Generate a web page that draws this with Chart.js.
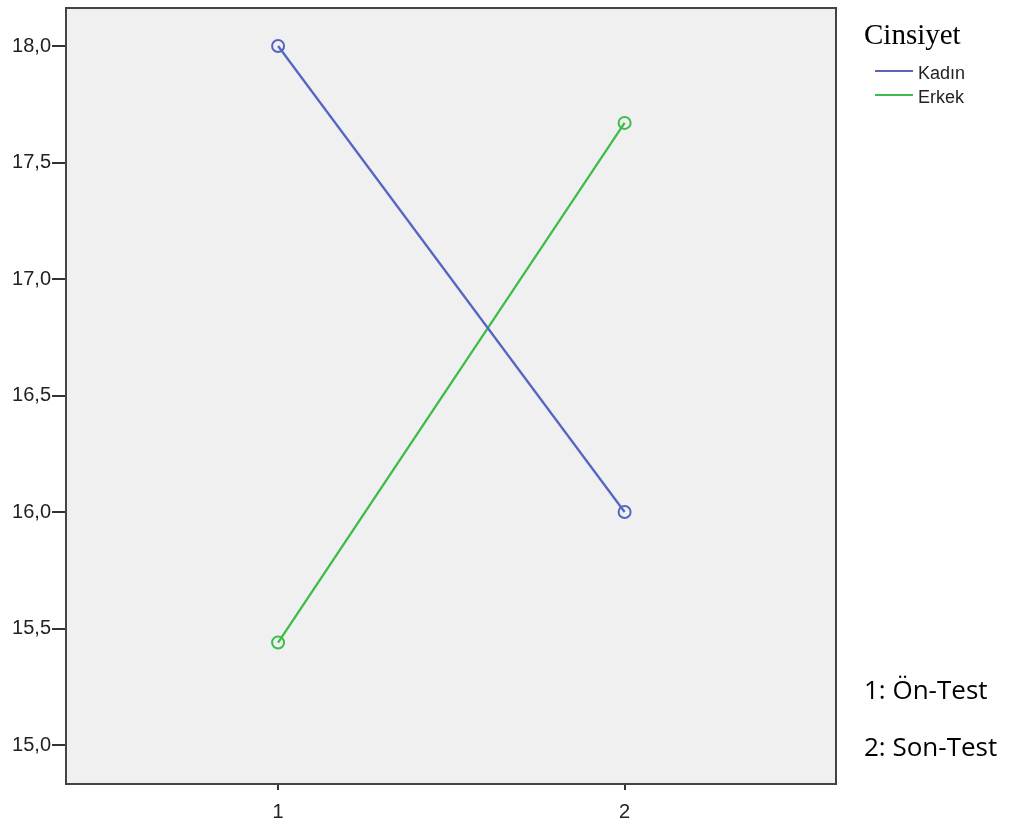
<!DOCTYPE html>
<html>
<head>
<meta charset="utf-8">
<script src="https://cdn.jsdelivr.net/npm/chart.js@4"></script>
<style>
  body { margin: 0; background: #fff; }
  #wrap { position: relative; width: 1010px; height: 830px; }
  #legendTitle { position: absolute; left: 864px; top: 16px; font: 29px "Liberation Serif", serif; color: #000; line-height: 36px; }
  .leg { position: absolute; left: 875px; font: 18px "Liberation Sans", Arial, sans-serif; color: #222; line-height: 22px; }
  .leg span { display: inline-block; width: 38px; height: 2px; vertical-align: middle; margin-right: 5px; position: relative; top: -3px; }
  .note { position: absolute; left: 864px; font: 26px "Open Sans", sans-serif; color: #000; line-height: 34px; }
</style>
</head>
<body>
<div id="wrap">
  <canvas id="myChart" width="1010" height="830"></canvas>
  <div id="legendTitle">Cinsiyet</div>
  <div id="legend"></div>
  <div class="note" style="top:672px">1: Ön-Test</div>
  <div class="note" style="top:729px">2: Son-Test</div>
</div>
<script>
const categories = [1, 2]
const seriesNames = ['Kadın', 'Erkek']
const kadin = [18.0, 16.0]
const erkek = [15.44, 17.67]
const colors = ['#5566c2', '#3dbc4b']
const yTicks = [15.0, 15.5, 16.0, 16.5, 17.0, 17.5, 18.0]
const xTicks = [1, 2]

const allSeries = [kadin, erkek]

// legend as html
const legendDiv = document.getElementById('legend')
seriesNames.forEach((name, i) => {
    const d = document.createElement('div')
    d.className = 'leg'
    d.style.top = (62 + i * 24) + 'px'
    d.innerHTML = '<span style="background:' + colors[i] + '"></span>' + name
    legendDiv.appendChild(d)
})

// plot background and frame
const plotFrame = {
    id: 'plotFrame',
    beforeDraw(chart) {
        const a = chart.chartArea
        const c = chart.ctx
        c.save()
        c.fillStyle = '#f0f0f0'
        c.fillRect(a.left, a.top, a.right - a.left, a.bottom - a.top)
        c.restore()
    },
    afterDraw(chart) {
        const a = chart.chartArea
        const c = chart.ctx
        c.save()
        c.strokeStyle = '#444'
        c.lineWidth = 2
        c.strokeRect(a.left, a.top, a.right - a.left, a.bottom - a.top)
        c.restore()
    }
}

const ctx = document.getElementById('myChart')
new Chart(ctx, {
    type: 'line',
    data: {
        datasets: seriesNames.map((name, i) => ({
            label: name,
            data: categories.map((x, j) => ({ x: x, y: allSeries[i][j] })),
            borderColor: colors[i],
            backgroundColor: 'rgba(0,0,0,0)',
            borderWidth: 2.3,
            pointRadius: 6,
            pointBorderWidth: 2,
            pointBorderColor: colors[i],
            pointBackgroundColor: 'rgba(0,0,0,0)',
            tension: 0
        }))
    },
    options: {
        responsive: false,
        animation: false,
        layout: { padding: { left: 0, right: 174, top: 6, bottom: 0 } },
        plugins: { legend: { display: false }, tooltip: { enabled: false } },
        scales: {
            x: {
                type: 'linear',
                min: 0.388,
                max: 2.61,
                afterBuildTicks: (s) => { s.ticks = xTicks.map(v => ({ value: v })) },
                afterFit: (s) => { s.height = 46; s.paddingLeft = 0; s.paddingRight = 0 },
                border: { display: false },
                grid: { drawOnChartArea: false, drawTicks: true, tickLength: 6, tickColor: '#333', lineWidth: 2 },
                ticks: { color: '#222', font: { family: 'Liberation Sans', size: 20 }, padding: 10, callback: (v) => String(v) }
            },
            y: {
                min: 14.833,
                max: 18.163,
                afterBuildTicks: (s) => { s.ticks = yTicks.map(v => ({ value: v })) },
                afterFit: (s) => { s.width = 66; s.paddingTop = 0; s.paddingBottom = 0 },
                border: { display: false },
                grid: { drawOnChartArea: false, drawTicks: true, tickLength: 14, tickColor: '#333', lineWidth: 2 },
                ticks: { color: '#222', font: { family: 'Liberation Sans', size: 20 }, padding: 1, callback: (v) => v.toFixed(1).replace('.', ',') }
            }
        }
    },
    plugins: [plotFrame]
})
</script>
</body>
</html>
